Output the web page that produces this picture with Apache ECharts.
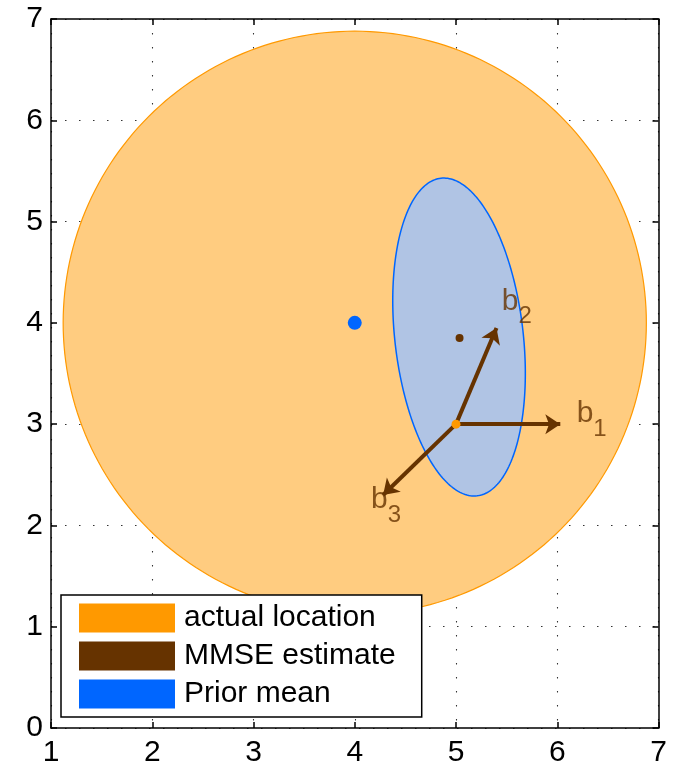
<!DOCTYPE html>
<html>
<head>
<meta charset="utf-8">
<script src="https://cdn.jsdelivr.net/npm/echarts@6/dist/echarts.min.js"></script>
<style>
  html, body { margin: 0; padding: 0; background: #fff; }
  #chart { width: 673px; height: 768px; }
</style>
</head>
<body>
<div id="chart"></div>
<script>
  // regions: [centre x, centre y, semi-axis a, semi-axis b, tilt in degrees]
  var priorRegion = [4, 4, 2.88, 2.88, 0];
  var postRegion = [5.03, 3.86, 1.578, 0.634, 6.5];
  var actualLoc = [5, 3];
  var mmseEst = [5.035, 3.85];
  var priorMean = [4, 4];
  var arrowEnds = [[6.03, 3.0], [5.40, 3.95], [4.28, 2.30]];
  var arrowSubs = ["1", "2", "3"];
  var labelPos = [[6.34, 3.04], [5.60, 4.15], [4.31, 2.19]];
  var legendNames = ["actual location", "MMSE estimate", "Prior mean"];

  var FONT = "Liberation Sans";
  var BROWN = "#663300";

  // region outline from centre/semi-axes, mapped through the axes
  function drawRegion(fill, stroke, lw) {
    return function (params, api) {
      var cx = api.value(0), cy = api.value(1), a = api.value(2), b = api.value(3);
      var phi = api.value(4) * Math.PI / 180;
      var pts = [];
      for (var i = 0; i < 240; i++) {
        var t = i / 240 * 2 * Math.PI;
        var lx = b * Math.cos(t), ly = a * Math.sin(t);
        pts.push(api.coord([
          cx + lx * Math.cos(phi) - ly * Math.sin(phi),
          cy + lx * Math.sin(phi) + ly * Math.cos(phi)
        ]));
      }
      return {
        type: "polygon",
        shape: { points: pts },
        style: { fill: fill, stroke: stroke, lineWidth: lw }
      };
    };
  }

  var axisCommon = {
    type: "value",
    interval: 1,
    axisLine: { show: true, onZero: false, lineStyle: { color: "#000", width: 1.5 } },
    axisTick: { show: true, inside: true, length: 6, lineStyle: { color: "#000", width: 1.5 } }
  };

  var chart = echarts.init(document.getElementById("chart"));
  chart.setOption({
    animation: false,
    grid: { left: 51, right: 14.5, top: 19, bottom: 40 },
    xAxis: [
      Object.assign({}, axisCommon, {
        min: 1, max: 7, position: "bottom",
        axisLabel: { fontSize: 30, color: "#000", fontFamily: FONT, margin: 10 },
        splitLine: { show: true, lineStyle: { color: "#333", width: 1.1, type: [1.5, 12.5] } }
      }),
      Object.assign({}, axisCommon, {
        min: 1, max: 7, position: "top",
        axisLabel: { show: false }, splitLine: { show: false }
      })
    ],
    yAxis: [
      Object.assign({}, axisCommon, {
        min: 0, max: 7, position: "left",
        axisLabel: { fontSize: 30, color: "#000", fontFamily: FONT, margin: 8 },
        splitLine: { show: true, lineStyle: { color: "#333", width: 1.1, type: [1.5, 12.5] } }
      }),
      Object.assign({}, axisCommon, {
        min: 0, max: 7, position: "right",
        axisLabel: { show: false }, splitLine: { show: false }
      })
    ],
    legend: {
      orient: "vertical",
      left: 61,
      top: 595,
      padding: [8, 26, 8, 18],
      itemWidth: 96,
      itemHeight: 29,
      itemGap: 8,
      selectedMode: false,
      backgroundColor: "#fff",
      borderColor: "#000",
      borderWidth: 1.5,
      borderRadius: 0,
      textStyle: { fontSize: 30, color: "#000", fontFamily: FONT, padding: [0, 0, 0, 4] },
      data: legendNames.map(function (n) { return { name: n, icon: "rect" }; })
    },
    series: [
      {
        type: "custom",
        name: "prior region",
        z: 1,
        silent: true,
        renderItem: drawRegion("#FFCC80", "#FF9900", 1.2),
        data: [priorRegion]
      },
      {
        type: "custom",
        name: "posterior region",
        z: 2,
        silent: true,
        renderItem: drawRegion("#B0C4E4", "#0066FF", 1.5),
        data: [postRegion]
      },
      {
        type: "lines",
        coordinateSystem: "cartesian2d",
        z: 3,
        symbol: ["none", "arrow"],
        symbolSize: 15,
        lineStyle: { color: BROWN, width: 4, opacity: 1 },
        data: arrowEnds.map(function (e) { return { coords: [actualLoc, e] }; })
      },
      {
        type: "scatter",
        name: "labels",
        z: 4,
        symbolSize: 0,
        data: labelPos,
        label: {
          show: true,
          position: "inside",
          formatter: function (p) { return "{b|b}{s|" + arrowSubs[p.dataIndex] + "}"; },
          rich: {
            b: { fontSize: 30, color: BROWN, fontFamily: FONT, lineHeight: 42, verticalAlign: "top" },
            s: { fontSize: 24, color: BROWN, fontFamily: FONT, lineHeight: 42, verticalAlign: "bottom" }
          }
        }
      },
      {
        type: "scatter",
        name: "actual location",
        z: 5,
        symbolSize: 9,
        itemStyle: { color: "#FF9900", opacity: 1 },
        data: [actualLoc]
      },
      {
        type: "scatter",
        name: "MMSE estimate",
        z: 5,
        symbolSize: 8,
        itemStyle: { color: BROWN, opacity: 1 },
        data: [mmseEst]
      },
      {
        type: "scatter",
        name: "Prior mean",
        z: 5,
        symbolSize: 14,
        itemStyle: { color: "#0066FF", opacity: 1 },
        data: [priorMean]
      }
    ]
  });
</script>
</body>
</html>
